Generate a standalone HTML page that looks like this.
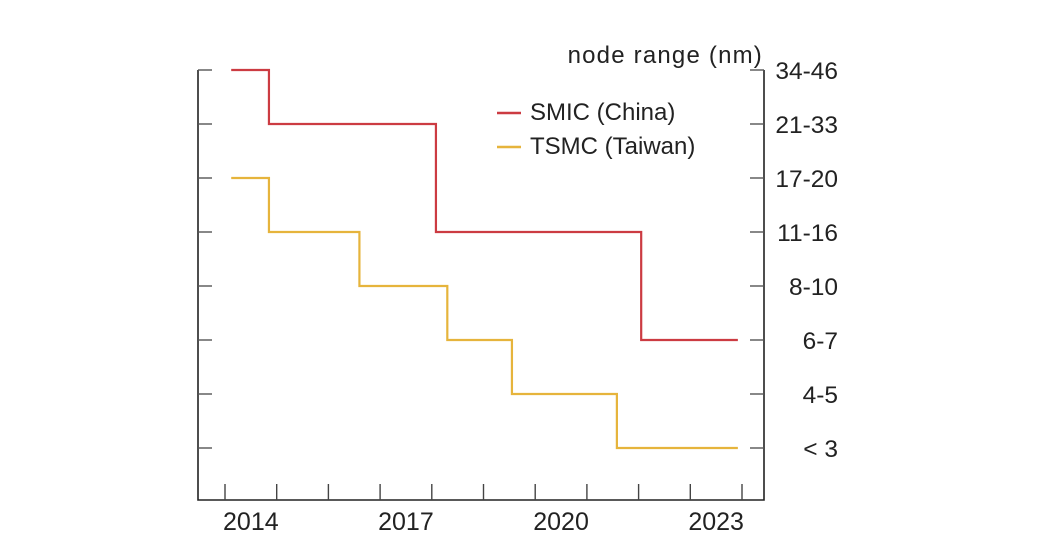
<!DOCTYPE html>
<html><head><meta charset="utf-8"><style>
html,body{margin:0;padding:0;background:#fff;}
svg{display:block;font-family:"Liberation Sans",sans-serif;}
</style></head><body>
<svg id="chart" width="1055" height="550" viewBox="0 0 1055 550" xmlns="http://www.w3.org/2000/svg">
<g id="axes"></g>
<g id="series"></g>
<text x="763" y="63" text-anchor="end" font-size="24" letter-spacing="1.2" fill="#222">node range (nm)</text>
<g>
<line x1="497" y1="113" x2="521" y2="113" stroke="#cc3b42" stroke-width="2.4"/>
<text x="530" y="120" font-size="24" fill="#222">SMIC (China)</text>
<line x1="497" y1="147" x2="521" y2="147" stroke="#e6b43c" stroke-width="2.4"/>
<text x="530" y="154" font-size="24" fill="#222">TSMC (Taiwan)</text>
</g>
</svg>
<script>
const categories = ["34-46","21-33","17-20","11-16","8-10","6-7","4-5","< 3"];
const yearLabels = [2014, 2017, 2020, 2023];
const smicTimes = [2014.12, 2014.85, 2018.08, 2022.05, 2023.92];
const smicLevels = [0, 1, 3, 5];
const tsmcTimes = [2014.12, 2014.85, 2016.6, 2018.3, 2019.55, 2021.58, 2023.92];
const tsmcLevels = [2, 3, 4, 5, 6, 7];

const NS = "http://www.w3.org/2000/svg";
const L = 198, R = 764, T = 70, B = 500;
const x = t => 225 + (t - 2014) * 51.7;
const y = i => 70 + i * 54;
const axes = document.getElementById('axes');
function mk(tag, attrs, parent){const e=document.createElementNS(NS,tag);for(const k in attrs)e.setAttribute(k,attrs[k]);parent.appendChild(e);return e;}

let p = mk('path',{d:`M${L},${T} V${B} H${R} V${T}`,fill:'none',stroke:'#222','stroke-width':1.6},axes);


categories.forEach((c,i)=>{
  const yy=y(i);
  let t1=mk('line',{x1:L,y1:yy,x2:L+14,y2:yy,stroke:'#555','stroke-width':1.4},axes);
  
  
  let t2=mk('line',{x1:R-14,y1:yy,x2:R,y2:yy,stroke:'#555','stroke-width':1.4},axes);
  
  
  let lb=mk('text',{x:838,y:yy+9,'text-anchor':'end','font-size':24.5,fill:'#222'},axes);
  lb.textContent=c;
  
  
});
for(let yr=2014; yr<=2024; yr++){
  let tk=mk('line',{x1:x(yr),y1:B-16,x2:x(yr),y2:B,stroke:'#444','stroke-width':1.4},axes);
  
  
}
yearLabels.forEach(yr=>{
  let lb=mk('text',{x:x(yr+0.5),y:530,'text-anchor':'middle','font-size':25,fill:'#222'},axes);
  lb.textContent=yr;
  
  
});
const series=document.getElementById('series');
function step(times,levels,color,name){
  let d=`M${x(times[0])},${y(levels[0])}`;
  for(let i=1;i<times.length;i++){
    d+=` H${x(times[i])}`;
    if(i<levels.length) d+=` V${y(levels[i])}`;
  }
  let s=mk('path',{d,fill:'none',stroke:color,'stroke-width':2.2},series);
  
  
}
step(smicTimes,smicLevels,'#cc3b42','smic-line');
step(tsmcTimes,tsmcLevels,'#e6b43c','tsmc-line');
</script>
</body></html>
